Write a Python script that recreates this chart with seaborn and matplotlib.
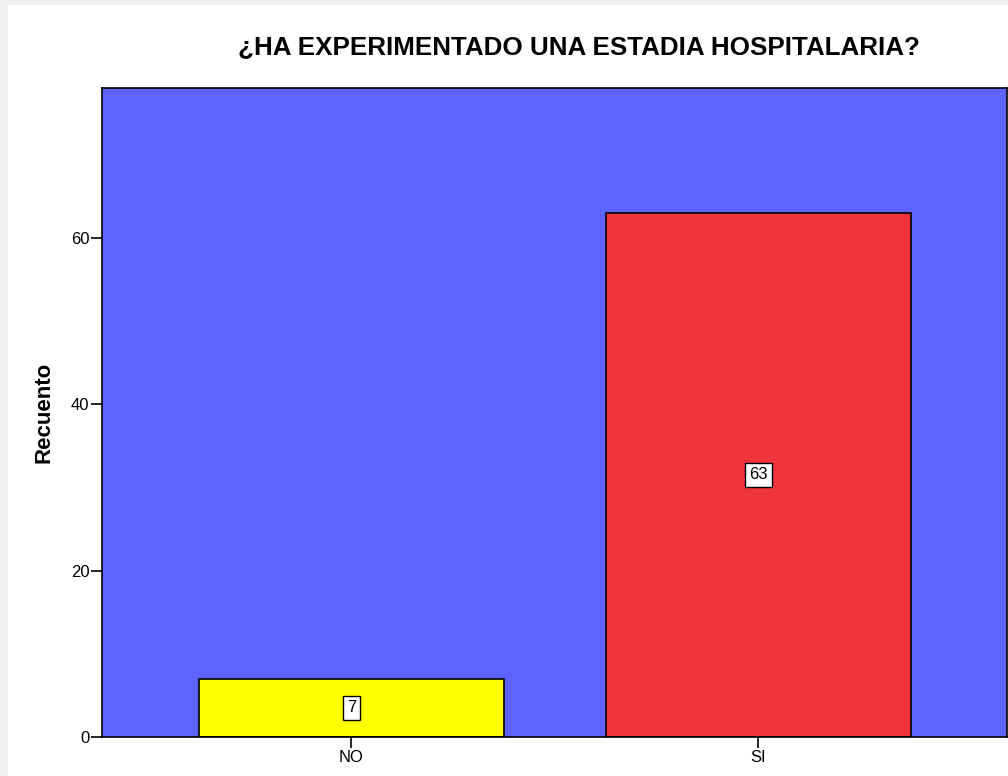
import matplotlib
matplotlib.use("Agg")
import matplotlib.pyplot as plt
import seaborn as sns
import pandas as pd
from matplotlib.patches import Rectangle

categories = ["NO", "SI"]
counts = [7, 63]
bar_colors = ["#ffff00", "#f0343c"]
title = "¿HA EXPERIMENTADO UNA ESTADIA HOSPITALARIA?"
ylabel = "Recuento"
yticks = [0, 20, 40, 60]

sns.set_theme(style="white")
plt.rcParams['font.family'] = ['Liberation Sans', 'DejaVu Sans']
plt.rcParams['text.color'] = 'black'

df = pd.DataFrame({"cat": categories, "n": counts})

fig = plt.figure(figsize=(10.08, 7.76), dpi=100, facecolor="white")
# light gray frame at top and left
fig.patches.append(Rectangle((0, 0), 1, 1, transform=fig.transFigure, facecolor="#f0f0f0", edgecolor="none", zorder=-10))
fig.patches.append(Rectangle((8/1008, 0), 1, 1 - 5/776, transform=fig.transFigure, facecolor="white", edgecolor="none", zorder=-9))

ax = fig.add_axes([102/1008, 39/776, 905/1008, 649/776])
ax.set_facecolor("#5e63ff")
sns.barplot(data=df, x="cat", y="n", hue="cat", palette=bar_colors, width=0.75,
            edgecolor="black", linewidth=1.2, legend=False, ax=ax, saturation=1)

for i, v in enumerate(counts):
    ax.text(i, v / 2, str(v), ha="center", va="center", fontsize=12, color="black",
            bbox=dict(boxstyle="square,pad=0.25", facecolor="white", edgecolor="black", linewidth=1))

ax.set_xlim(-0.613, 1.611)
ax.set_ylim(0, 78)
ax.set_yticks(yticks)
ax.set_xlabel("")
ax.set_ylabel(ylabel, fontsize=16, fontweight="bold", color="black", labelpad=12)
for s in ax.spines.values():
    s.set_visible(True)
    s.set_color("black")
    s.set_linewidth(1.2)
ax.tick_params(axis="both", direction="out", length=8, width=1.2, color="black",
               labelsize=12, labelcolor="black", left=True, bottom=True, pad=1)

fig.text(579/1008, 1 - 47/776, title, ha="center", va="center", fontsize=18.7,
         fontweight="bold", color="black")

fig.savefig("out.png", dpi=100, facecolor=fig.get_facecolor())
